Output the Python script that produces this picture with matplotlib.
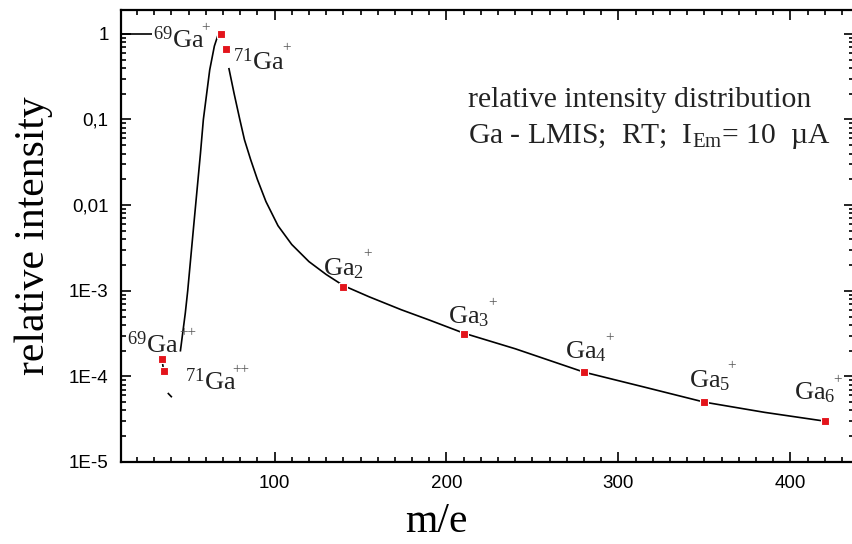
import numpy as np
import matplotlib
matplotlib.use("Agg")
import matplotlib.pyplot as plt
from matplotlib.ticker import FixedLocator, MultipleLocator, LogLocator, NullFormatter

plt.rcParams['mathtext.fontset'] = 'custom'
plt.rcParams['mathtext.rm'] = 'Liberation Serif'
plt.rcParams['mathtext.it'] = 'Liberation Serif:italic'

# measured points (red squares)
mass = [34.5, 35.5, 68.6, 71.5, 140, 210, 280, 350, 420]
intensity = [1.6e-4, 1.16e-4, 1.0, 0.66, 1.12e-3, 3.16e-4, 1.12e-4, 5.0e-5, 3.0e-5]

# hand drawn guide curve
rise_x = [45.2, 48.1, 49.5, 53.0, 56.9, 58.6, 62.3, 65.0, 67.6]
rise_y = [1.95e-4, 5.5e-4, 1.0e-3, 5.8e-3, 0.04, 0.1, 0.38, 0.72, 1.04]
decay_x = [73.4, 76.5, 79.8, 82.5, 86.1, 90, 95, 102, 110, 120, 130, 140, 155, 173.7,
           190, 210, 240, 280, 315, 350, 385, 420]
decay_y = [0.40, 0.2, 0.1, 0.058, 0.034, 0.02, 0.011, 5.75e-3, 3.47e-3, 2.19e-3, 1.55e-3,
           1.15e-3, 8.5e-4, 6.0e-4, 4.55e-4, 3.2e-4, 2.1e-4, 1.12e-4, 7.5e-5, 5.0e-5,
           3.8e-5, 3.0e-5]
dbl_x = [34.5, 35.5]
dbl_y = [1.6e-4, 1.16e-4]
dash_x = [37.9, 40.3]
dash_y = [6.4e-5, 5.7e-5]
top_x = [9, 28.7]
top_y = [1.0, 1.0]

# peak labels
lab_txt = [r"$^{69}\mathrm{Ga}$", r"$^{71}\mathrm{Ga}$", r"$^{69}\mathrm{Ga}$", r"$^{71}\mathrm{Ga}$",
           r"$\mathrm{Ga}_{2}$", r"$\mathrm{Ga}_{3}$", r"$\mathrm{Ga}_{4}$", r"$\mathrm{Ga}_{5}$",
           r"$\mathrm{Ga}_{6}$"]
lab_x = [29.5, 76.1, 14.3, 48.1, 128, 201, 268.9, 340.8, 402.1]
lab_y = [0.68, 0.38, 1.86e-4, 6.9e-5, 1.53e-3, 4.2e-4, 1.64e-4, 7.5e-5, 5.45e-5]
chg_txt = ["+", "+", "++", "++", "+", "+", "+", "+", "+"]
chg_x = [59.9, 106.7, 49.4, 80.2, 154.3, 226.7, 294.6, 365.9, 427.2]
chg_y = [1.17, 0.686, 3.2e-4, 1.19e-4, 2.7e-3, 7.2e-4, 2.87e-4, 1.32e-4, 9.2e-5]

ytick_vals = [1e-5, 1e-4, 1e-3, 1e-2, 1e-1, 1]
ytick_labs = ['1E-5', '1E-4', '1E-3', '0,01', '0,1', '1']

fig = plt.figure(figsize=(8.52, 5.44), dpi=100)
ax = fig.add_axes([121 / 852, 1 - 462 / 544, 733 / 852, 452 / 544])

for xs, ys in [(rise_x, rise_y), (decay_x, decay_y), (dbl_x, dbl_y), (dash_x, dash_y), (top_x, top_y)]:
    ax.plot(xs, ys, color='black', lw=1.2, solid_capstyle='butt', solid_joinstyle='round')
ax.plot(mass, intensity, 's', color='#e3141b', ms=6, mec='white', mew=0.8, zorder=5)

for t, x, y in zip(lab_txt, lab_x, lab_y):
    ax.text(x, y, t, fontsize=19, ha='left', va='baseline', color='#222222')
for t, x, y in zip(chg_txt, chg_x, chg_y):
    ax.text(x, y, t, fontsize=11, ha='center', va='center', color='#555555',
            family='Liberation Serif')

ax.text(0.474, 0.786, "relative intensity distribution", transform=ax.transAxes,
        fontsize=21.3, family='Liberation Serif', va='baseline', color='#222222')
ax.text(0.474, 0.706, r"Ga - LMIS;  RT;  I$_{\mathrm{Em}}$= 10  µA", transform=ax.transAxes,
        fontsize=21.3, family='Liberation Serif', va='baseline', color='#222222')

ax.set_yscale('log')
ax.set_xlim(10.7, 437)
ax.set_ylim(1e-5, 1.9)
ax.yaxis.set_major_locator(FixedLocator(ytick_vals))
ax.set_yticklabels(ytick_labs)
ax.yaxis.set_minor_locator(LogLocator(base=10, subs=np.arange(2, 10)))
ax.yaxis.set_minor_formatter(NullFormatter())
ax.xaxis.set_major_locator(MultipleLocator(100))
ax.xaxis.set_minor_locator(MultipleLocator(10))

ax.tick_params(which='both', direction='in', top=True, right=True, width=1.2)
ax.tick_params(which='major', length=7, labelsize=13.5, pad=9)
ax.tick_params(which='minor', length=3.5)
for lab in ax.get_xticklabels() + ax.get_yticklabels():
    lab.set_family('Liberation Sans')
for s in ax.spines.values():
    s.set_linewidth(1.6)

ax.set_xlabel("m/e", fontsize=30, family='Liberation Serif')
ax.set_ylabel("relative intensity", fontsize=30, family='Liberation Serif')
ax.xaxis.set_label_coords(0.43, -0.09)
ax.yaxis.set_label_coords(-0.093, 0.5)

fig.savefig("out.png", dpi=100)
